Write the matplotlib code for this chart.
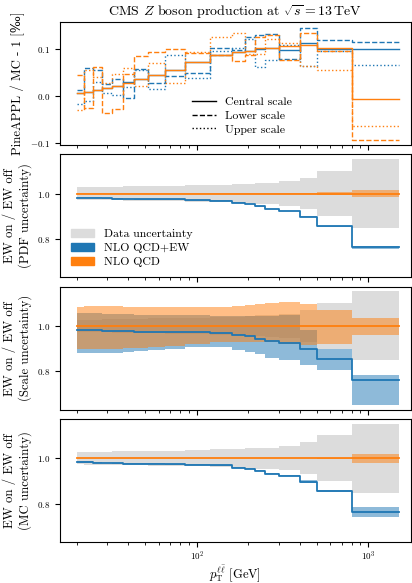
import numpy as np
import matplotlib
matplotlib.use("Agg")
import matplotlib.pyplot as plt
from matplotlib.patches import Patch
from matplotlib.lines import Line2D

plt.rcParams['font.family'] = ['cmr10', 'DejaVu Serif']
plt.rcParams['mathtext.fontset'] = 'cm'
plt.rcParams['axes.formatter.use_mathtext'] = True

# bin edges of pT(ll) in GeV
edges = [20, 22, 25, 28, 32, 37, 43, 52, 65, 85, 120, 160, 190, 220, 250, 300, 400, 500, 800, 1500]

# top panel: PineAPPL / MC - 1 [permille]
qcd_central = [0.006, 0.009, 0.0135, 0.017, 0.022, 0.028, 0.036, 0.045, 0.056, 0.073,
               0.088, 0.094, 0.096, 0.102, 0.102, 0.106, 0.109, 0.102, -0.006]
qcd_lower = [0.044, -0.027, 0.062, -0.036, -0.028, 0.047, 0.085, 0.094, 0.100, 0.092,
             0.088, 0.075, 0.087, 0.126, 0.131, 0.077, 0.135, 0.097, -0.094]
qcd_upper = [-0.031, 0.055, 0.041, 0.028, 0.046, 0.060, 0.021, 0.071, 0.028, 0.094,
             0.126, 0.134, 0.090, 0.090, 0.121, 0.113, 0.065, 0.056, -0.064]
ew_central = [0.006, 0.009, 0.013, 0.017, 0.022, 0.029, 0.036, 0.045, 0.056, 0.073,
              0.088, 0.093, 0.096, 0.101, 0.102, 0.099, 0.113, 0.101, 0.100]
ew_lower = [0.013, 0.060, 0.055, 0.025, 0.037, -0.004, 0.058, 0.028, 0.042, 0.048,
            0.103, 0.098, 0.126, 0.131, 0.132, 0.080, 0.145, 0.119, 0.115]
ew_upper = [-0.017, -0.011, 0.030, 0.006, 0.002, 0.020, 0.055, 0.014, 0.087, 0.038,
            0.097, 0.103, 0.121, 0.062, 0.076, 0.110, 0.065, 0.097, 0.067]

# EW on / EW off ratio
ratio_ew = [0.982, 0.982, 0.981, 0.979, 0.978, 0.976, 0.975, 0.975, 0.974, 0.971,
            0.968, 0.959, 0.954, 0.944, 0.932, 0.923, 0.897, 0.855, 0.763]
data_unc = [0.027, 0.028, 0.028, 0.029, 0.030, 0.031, 0.032, 0.033, 0.034, 0.036,
            0.039, 0.040, 0.043, 0.046, 0.047, 0.054, 0.070, 0.101, 0.152]

# PDF uncertainty (half widths)
pdf_ew = [0.002] * 18 + [0.008]
pdf_qcd = [0.002] * 17 + [0.006, 0.015]

# scale uncertainty (absolute band edges)
scale_qcd_hi = [1.084, 1.086, 1.087, 1.087, 1.086, 1.085, 1.084, 1.083, 1.082, 1.081,
                1.082, 1.088, 1.091, 1.098, 1.102, 1.105, 1.096, 1.072, 1.035]
scale_qcd_lo = [0.896, 0.897, 0.898, 0.899, 0.900, 0.902, 0.904, 0.907, 0.913, 0.919,
                0.929, 0.930, 0.930, 0.928, 0.927, 0.922, 0.915, 0.918, 0.962]
scale_ew_hi = [1.058, 1.057, 1.055, 1.053, 1.052, 1.051, 1.050, 1.049, 1.048, 1.047,
               1.045, 1.043, 1.043, 1.043, 1.045, 1.047, 0.980, 0.900, 0.782]
scale_ew_lo = [0.882, 0.882, 0.879, 0.880, 0.882, 0.885, 0.888, 0.893, 0.900, 0.907,
               0.905, 0.895, 0.885, 0.875, 0.860, 0.848, 0.826, 0.804, 0.650]

# MC uncertainty (half widths)
mc_ew = [0.004, 0.004] + [0.002] * 14 + [0.006, 0.006, 0.020]
mc_qcd = [0.001] * 17 + [0.003, 0.020]

blue = '#1f77b4'
orange = '#ff7f0e'
grey = '#dcdcdc'


def ext(v):
    v = np.asarray(v, dtype=float)
    return np.append(v, v[-1])


def band(ax, lo, hi, **kw):
    ax.fill_between(edges, ext(lo), ext(hi), step='post', linewidth=0, **kw)


fig, axs = plt.subplots(4, 1, sharex=True, figsize=(4.12, 5.83), dpi=100)
fig.subplots_adjust(left=0.1456, right=0.9964, top=0.962, bottom=0.07, hspace=0.076)

# top panel
ax = axs[0]
for vals, ls in [(ew_central, '-'), (ew_lower, '--'), (ew_upper, ':')]:
    ax.step(edges, ext(vals), where='post', color=blue, ls=ls, lw=1.0)
for vals, ls in [(qcd_central, '-'), (qcd_lower, '--'), (qcd_upper, ':')]:
    ax.step(edges, ext(vals), where='post', color=orange, ls=ls, lw=1.0)
ax.set_ylim(-0.1056, 0.158)
ax.set_yticks([-0.1, 0.0, 0.1])
ax.set_ylabel('PineAPPL / MC - 1 [‰]')
ax.set_title(r'CMS $Z$ boson production at $\sqrt{s} = 13\,\mathrm{TeV}$', fontsize=10, pad=5)
handles = [Line2D([], [], color='k', ls='-', lw=1.0),
           Line2D([], [], color='k', ls='--', lw=1.0),
           Line2D([], [], color='k', ls=':', lw=1.0)]
ax.legend(handles, ['Central scale', 'Lower scale', 'Upper scale'], loc='lower center',
          bbox_to_anchor=(0.52, 0.0), frameon=False, fontsize=8.5, handlelength=2.0,
          labelspacing=0.3)

r = np.asarray(ratio_ew)
d = np.asarray(data_unc)
one = np.ones(len(r))
panels = [
    ('(PDF uncertainty)', r - pdf_ew, r + pdf_ew, one - pdf_qcd, one + pdf_qcd),
    ('(Scale uncertainty)', scale_ew_lo, scale_ew_hi, scale_qcd_lo, scale_qcd_hi),
    ('(MC uncertainty)', r - mc_ew, r + mc_ew, one - mc_qcd, one + mc_qcd),
]
for ax, (name, elo, ehi, qlo, qhi) in zip(axs[1:], panels):
    band(ax, 1 - d, 1 + d, color=grey)
    band(ax, elo, ehi, color=blue, alpha=0.5)
    ax.step(edges, ext(r), where='post', color=blue, lw=1.3)
    band(ax, qlo, qhi, color=orange, alpha=0.5)
    ax.step(edges, ext(one), where='post', color=orange, lw=1.3)
    ax.set_ylim(0.63, 1.172)
    ax.set_yticks([0.8, 1.0])
    ax.set_ylabel('EW on / EW off\n' + name)

axs[1].legend([Patch(color=grey), Patch(color=blue), Patch(color=orange)],
              ['Data uncertainty', 'NLO QCD+EW', 'NLO QCD'], loc='lower left',
              frameon=False, fontsize=8.5, labelspacing=0.3)

for ax in axs:
    ax.set_xscale('log')
    ax.tick_params(labelsize=6.5)
    ax.yaxis.label.set_size(9.2)
axs[-1].tick_params(axis='x', pad=2)
axs[-1].set_xlim(15.97, 1762)
axs[-1].set_xlabel(r'$p_\mathrm{T}^{\ell\bar{\ell}}$ [GeV]', fontsize=9, labelpad=0)

fig.savefig('out.png', dpi=100)
